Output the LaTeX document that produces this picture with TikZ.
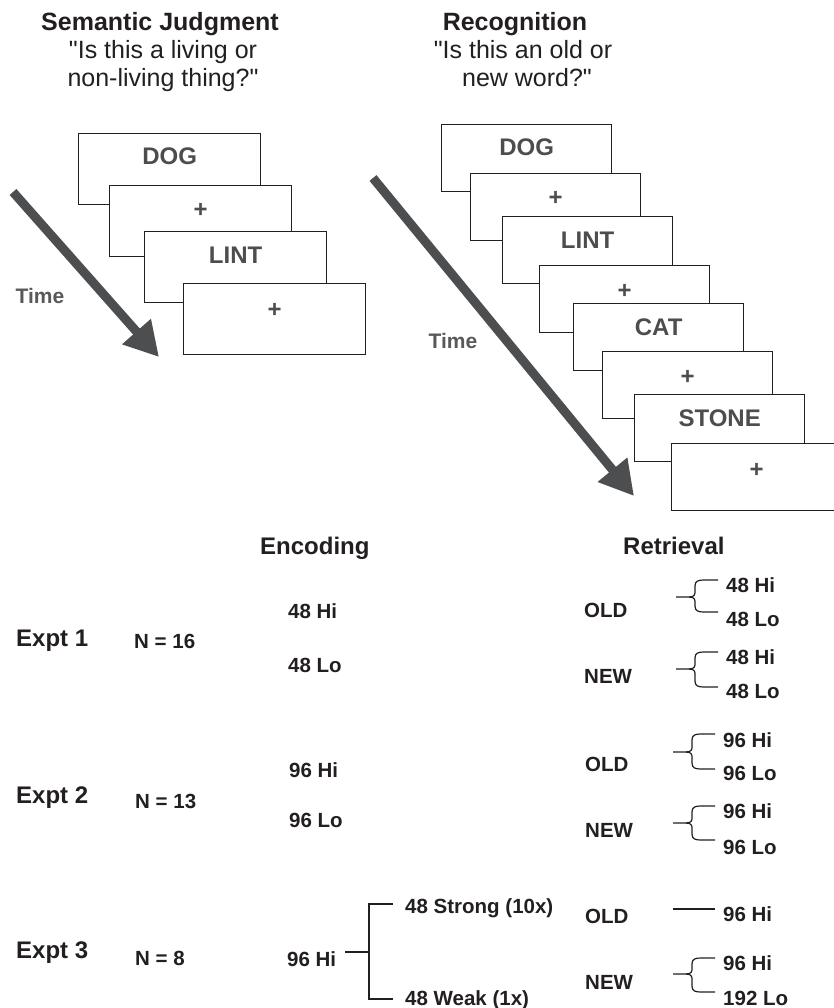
\documentclass[tikz,border=0pt]{standalone}
\usepackage{fontspec}
\setmainfont{Liberation Sans}[Ligatures=TeXOff]
\usetikzlibrary{arrows.meta}
\definecolor{ink}{HTML}{231F20}
\definecolor{wordgray}{HTML}{4D4D4F}
\definecolor{arrowgray}{HTML}{4D4E50}
\definecolor{timegray}{HTML}{58595B}
% brace: left x, mid y, top y, bottom y
\newcommand\retbrace[4]{%
  \draw[link] (#1,#2) -- ({#1+13},#2)
    .. controls ({#1+19},#2) and ({#1+19},{#2-3}) .. ({#1+19},{#2-6})
    -- ({#1+19},{#3+6})
    .. controls ({#1+19},{#3+1}) and ({#1+22},#3) .. ({#1+28},#3)
    -- ({#1+42},#3);
  \draw[link] ({#1+13},#2)
    .. controls ({#1+19},#2) and ({#1+19},{#2+3}) .. ({#1+19},{#2+6})
    -- ({#1+19},{#4-6})
    .. controls ({#1+19},{#4-1}) and ({#1+22},#4) .. ({#1+28},#4)
    -- ({#1+42},#4);
}
\begin{document}
\begin{tikzpicture}[x=1pt,y=-1pt,
  stim/.style={draw=ink, line width=1.3pt, fill=white, minimum width=182pt,
    minimum height=71pt, anchor=north west, inner sep=0pt},
  stimR/.style={stim, minimum width=170pt, minimum height=67pt},
  word/.style={font=\fontsize{24}{28}\selectfont\bfseries, text=wordgray, anchor=base, inner sep=0pt},
  ttl/.style={font=\fontsize{25}{28}\selectfont\bfseries, text=ink, anchor=base, inner sep=0pt},
  ttlq/.style={font=\fontsize{25}{28}\selectfont, text=ink, anchor=base, inner sep=0pt},
  timelbl/.style={font=\fontsize{21}{24}\selectfont\bfseries, text=timegray, anchor=base, inner sep=0pt},
  head/.style={font=\fontsize{24}{28}\selectfont\bfseries, text=ink, anchor=base west, inner sep=0pt},
  cell/.style={font=\fontsize{20.5}{24}\selectfont\bfseries, text=ink, anchor=base west, inner sep=0pt},
  link/.style={draw=ink, line width=1.2pt},
  timearrow/.style={draw=arrowgray, line width=9pt, -{Triangle[length=34pt,width=36pt]}}
]
\useasboundingbox (0,0) rectangle (834,1008);

% ---- titles
\node[ttl]  (t1a) at (160,31) {Semantic Judgment};
\node[ttlq] (t1b) at (163,59) {"Is this a living or};
\node[ttlq] (t1c) at (163,87) {non-living thing?"};
\node[ttl]  (t2a) at (515,31) {Recognition};
\node[ttlq] (t2b) at (523,59) {"Is this an old or};
\node[ttlq] (t2c) at (527,87) {new word?"};

% ---- left stimulus stack
\node[stim] (L1) at (78,133) {};
\node[word] (L1t) at ([yshift=-32pt]L1.north) {DOG};
\node[stim] (L2) at (109,185) {};
\node[word] (L2t) at ([yshift=-33pt]L2.north) {+};
\node[stim] (L3) at (144,231) {};
\node[word] (L3t) at ([yshift=-32pt]L3.north) {LINT};
\node[stim] (L4) at (183,283) {};
\node[word] (L4t) at ([yshift=-34pt]L4.north) {+};

\coordinate (la0) at (13,192);
\coordinate (la1) at (159,357);
\draw[timearrow] (la0) -- (la1);
\node[timelbl] (time1) at (40,303) {Time};

% ---- right stimulus stack
\node[stimR] (R1) at (441,124) {};
\node[word] (R1t) at ([yshift=-32pt]R1.north) {DOG};
\node[stimR] (R2) at (470,173) {};
\node[word] (R2t) at ([yshift=-33pt]R2.north) {+};
\node[stimR] (R3) at (502,216) {};
\node[word] (R3t) at ([yshift=-32pt]R3.north) {LINT};
\node[stimR] (R4) at (539,265) {};
\node[word] (R4t) at ([yshift=-33pt]R4.north) {+};
\node[stimR] (R5) at (573,303) {};
\node[word] (R5t) at ([yshift=-32pt]R5.north) {CAT};
\node[stimR] (R6) at (602,351) {};
\node[word] (R6t) at ([yshift=-33pt]R6.north) {+};
\node[stimR] (R7) at (634,394) {};
\node[word] (R7t) at ([yshift=-32pt]R7.north) {STONE};
\node[stimR] (R8) at (671,443) {};
\node[word] (R8t) at ([yshift=-34pt]R8.north) {+};

\coordinate (ra0) at (373,178);
\coordinate (ra1) at (634,496);
\draw[timearrow] (ra0) -- (ra1);
\node[timelbl] (time2) at (453,348) {Time};

% ---- design table
\node[head] (enc) at (260,554) {Encoding};
\node[head] (ret) at (623,554) {Retrieval};

% Expt 1
\node[head] (e1) at (16,646) {Expt 1};
\node[cell] (n1) at (134,648) {N = 16};
\node[cell] (e1h) at (288,618) {48 Hi};
\node[cell] (e1l) at (288,672) {48 Lo};
\node[cell] (e1old) at (584,617) {OLD};
\node[cell] (e1new) at (584,683) {NEW};
\node[cell] (e1oh) at (726,592) {48 Hi};
\node[cell] (e1ol) at (726,626) {48 Lo};
\node[cell] (e1nh) at (726,664) {48 Hi};
\node[cell] (e1nl) at (726,698) {48 Lo};
\retbrace{676}{597}{580}{612}
\retbrace{676}{669}{652}{687}

% Expt 2
\node[head] (e2) at (16,803) {Expt 2};
\node[cell] (n2) at (135,808) {N = 13};
\node[cell] (e2h) at (289,777) {96 Hi};
\node[cell] (e2l) at (289,827) {96 Lo};
\node[cell] (e2old) at (585,771) {OLD};
\node[cell] (e2new) at (585,837) {NEW};
\node[cell] (e2oh) at (723,747) {96 Hi};
\node[cell] (e2ol) at (723,780) {96 Lo};
\node[cell] (e2nh) at (723,818) {96 Hi};
\node[cell] (e2nl) at (723,854) {96 Lo};
\retbrace{673}{752}{734}{769}
\retbrace{673}{823}{806}{840}

% Expt 3
\node[head] (e3) at (16,958) {Expt 3};
\node[cell] (n3) at (135,965) {N = 8};
\node[cell] (e3h) at (287,966) {96 Hi};
\node[cell] (e3s) at (405,913) {48 Strong (10x)};
\node[cell] (e3w) at (405,1005) {48 Weak (1x)};
\coordinate (e3a) at (345,952);
\coordinate (e3j) at (369,952);
\coordinate (e3st) at (393,904);
\coordinate (e3wt) at (393,999);
\draw[link] (e3a) -- (e3j);
\draw[link] (e3st) -- (e3st -| e3j) -- (e3wt -| e3j) -- (e3wt);
\node[cell] (e3old) at (585,923) {OLD};
\node[cell] (e3new) at (585,989) {NEW};
\node[cell] (e3oh) at (723,921) {96 Hi};
\node[cell] (e3nh) at (723,970) {96 Hi};
\node[cell] (e3nl) at (723,1005) {192 Lo};
\coordinate (e3o0) at (673,909);
\coordinate (e3o1) at (715,909);
\draw[link] (e3o0) -- (e3o1);
\retbrace{673}{974}{958}{992}
\end{tikzpicture}
\end{document}
